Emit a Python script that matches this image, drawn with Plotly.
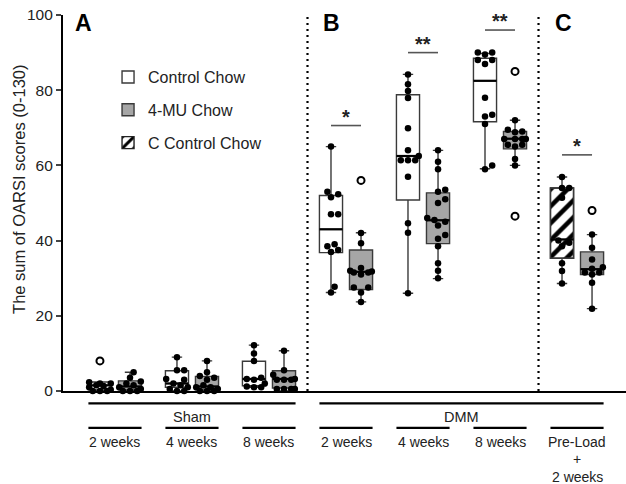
import plotly.graph_objects as go

# ---------------- data ----------------
groups = ["Sham 2 weeks", "Sham 4 weeks", "Sham 8 weeks",
          "DMM 2 weeks", "DMM 4 weeks", "DMM 8 weeks", "Pre-Load + 2 weeks"]
sub_labels = ["2 weeks", "4 weeks", "8 weeks", "2 weeks", "4 weeks", "8 weeks",
              "Pre-Load<br>+<br>2 weeks"]
top_labels = ["Sham", "DMM"]
top_spans = [(0, 2), (3, 6)]
y_title = "The sum of OARSI scores (0-130)"

# Control Chow (groups 0-5)
ctrl_groups = [0, 1, 2, 3, 4, 5]
ctrl_q1 = [0.3, 1.0, 1.4, 36.8, 50.8, 71.6]
ctrl_med = [1.5, 2.0, 3.2, 43.0, 62.5, 82.5]
ctrl_q3 = [2.4, 5.4, 7.9, 52.0, 78.8, 88.5]
ctrl_lo = [0.0, 0.0, 1.0, 26.2, 26.0, 59.1]
ctrl_hi = [2.4, 9.0, 12.2, 65.0, 84.2, 89.8]
ctrl_pts = [
    [0, 0, 0, 0.3, 1, 1.3, 1.5, 2, 2, 2.3],
    [0, 0, 0.5, 1, 1.5, 2, 3, 3.2, 5.5, 5.5, 9],
    [1, 1, 1.2, 2, 3, 3.2, 3.5, 8, 10, 12.2],
    [65, 53, 52.3, 51.5, 47, 47, 39, 38.5, 37.5, 37, 27.7, 26.2],
    [84.2, 81.6, 79.8, 77.9, 69.9, 64, 62.5, 61.4, 61.4, 61.4, 57, 44.6, 42.1, 26],
    [90, 90, 89.5, 88, 88, 87, 78, 73.5, 73, 71, 60, 59],
]
ctrl_out = [[8], [], [], [], [], []]

# 4-MU Chow (groups 0-6)
mu_groups = [0, 1, 2, 3, 4, 5, 6]
mu_q1 = [0.3, 0.3, 0.8, 27.0, 39.2, 64.4, 31.0]
mu_med = [1.2, 1.2, 3.2, 31.7, 45.4, 67.1, 32.4]
mu_q3 = [2.7, 3.9, 5.4, 37.5, 52.7, 69.0, 37.0]
mu_lo = [0.0, 0.0, 0.0, 23.7, 29.9, 60.0, 21.9]
mu_hi = [5.0, 8.0, 10.7, 42.1, 64.0, 72.0, 41.6]
mu_pts = [
    [0, 0, 0, 0.5, 1, 1.5, 2, 2.5, 3.5, 5],
    [0, 0, 0, 0.5, 1, 1, 1.5, 3, 3.5, 4, 5, 8],
    [0.5, 0.5, 0.5, 0.5, 3, 3, 3, 3.2, 4.3, 5.5, 10.7],
    [42, 39.3, 32.7, 32, 31.8, 31.5, 31.5, 31, 27.5, 27.5, 26.2, 23.7],
    [64, 61, 59, 53.5, 53, 51, 50, 46, 45.5, 45, 44, 41.5, 40.5, 38.5, 34, 32, 30],
    [72, 69.5, 69, 68.8, 67, 67, 67, 67, 65.5, 65.5, 65, 61.7, 60],
    [41.6, 38.1, 35, 32.9, 32.5, 31.5, 31.5, 31, 28.8, 21.9],
]
mu_out = [[], [], [], [56], [], [85, 46.5], [48]]

# C Control Chow (group 6)
cc_groups = [6]
cc_q1 = [35.3]
cc_med = [40.3]
cc_q3 = [54.0]
cc_lo = [28.6]
cc_hi = [56.9]
cc_pts = [[56.9, 54, 54, 51.4, 40, 39.4, 38.5, 34, 31.9, 28.6]]
cc_out = [[]]

# significance
sig_groups = [3, 4, 5, 6]
sig_y = [70.6, 90.0, 96.0, 62.8]
sig_text = ["*", "**", "**", "*"]

# ---------------- layout helpers ----------------
OFF = 0.195      # half distance between paired boxes (x units)
BW = 0.30        # box width (x units)
PX_X = 77.0      # px per x unit
PX_Y = 3.76      # px per y unit
FONT = "Arial, Liberation Sans, sans-serif"


def swarm(vals, center):
    """Deterministic beeswarm: spread coincident points sideways."""
    placed, xs, ys = [], [], []
    step, dmin = 3.6, 6.3
    order = [0, 1, -1, 2, -2, 3, -3]
    for v in sorted(vals):
        yp = v * PX_Y
        best = None
        for k in order:
            dx = k * step
            if all((dx - a) ** 2 + (yp - b) ** 2 >= dmin ** 2 for a, b in placed):
                best = dx
                break
        if best is None:
            best = max((k * step for k in order),
                       key=lambda dx: min((dx - a) ** 2 + (yp - b) ** 2 for a, b in placed))
        placed.append((best, yp))
        xs.append(center + best / PX_X)
        ys.append(v)
    return xs, ys


fig = go.Figure()

# hatched box body for C Control Chow
fig.add_trace(go.Bar(
    x=[g - OFF for g in cc_groups], base=cc_q1,
    y=[b - a for a, b in zip(cc_q1, cc_q3)], width=BW,
    marker=dict(color="white", line=dict(width=1.4, color="#222"),
                pattern=dict(shape="/", fgcolor="black", bgcolor="white", fgopacity=1,
                             size=12, solidity=0.38)),
    name="C Control Chow", legendgroup="cc", showlegend=True,
    hoverinfo="skip", legendrank=3))

series = [
    ("Control Chow", "c", ctrl_groups, -OFF, ctrl_q1, ctrl_med, ctrl_q3, ctrl_lo, ctrl_hi,
     ctrl_pts, ctrl_out, "white", True, 1),
    ("4-MU Chow", "m", mu_groups, OFF, mu_q1, mu_med, mu_q3, mu_lo, mu_hi,
     mu_pts, mu_out, "#a6a6a6", True, 2),
    ("C Control Chow", "cc", cc_groups, -OFF, cc_q1, cc_med, cc_q3, cc_lo, cc_hi,
     cc_pts, cc_out, "rgba(0,0,0,0)", False, 4),
]

for (name, lg, grp, off, q1, med, q3, lo, hi, pts, outs, fill, showleg, rank) in series:
    xpos = [g + off for g in grp]
    fig.add_trace(go.Box(
        x=xpos, q1=q1, median=med, q3=q3, lowerfence=lo, upperfence=hi,
        width=BW, whiskerwidth=0.45, boxpoints=False,
        fillcolor=fill, line=dict(color="#3a3a3a", width=1.4),
        name=name, legendgroup=lg, showlegend=showleg, legendrank=rank,
        hoverinfo="skip"))
    # thicker median lines
    mx, my = [], []
    for x0, m in zip(xpos, med):
        mx += [x0 - BW / 2, x0 + BW / 2, None]
        my += [m, m, None]
    fig.add_trace(go.Scatter(x=mx, y=my, mode="lines", legendgroup=lg,
                             line=dict(color="black", width=2.2),
                             showlegend=False, hoverinfo="skip"))
    # individual points
    px, py = [], []
    for x0, p in zip(xpos, pts):
        a, b = swarm(p, x0)
        px += a
        py += b
    fig.add_trace(go.Scatter(x=px, y=py, mode="markers", cliponaxis=False,
                             legendgroup=lg,
                             marker=dict(color="black", size=6.5),
                             showlegend=False, hoverinfo="skip"))
    ox, oy = [], []
    for x0, o in zip(xpos, outs):
        ox += [x0] * len(o)
        oy += o
    if ox:
        fig.add_trace(go.Scatter(x=ox, y=oy, mode="markers", cliponaxis=False,
                                 legendgroup=lg,
                                 marker=dict(symbol="circle-open", color="black",
                                             size=7, line=dict(width=2)),
                                 showlegend=False, hoverinfo="skip"))

shapes = []
annotations = []

# significance bars
for g, y, t in zip(sig_groups, sig_y, sig_text):
    shapes.append(dict(type="line", xref="x", yref="y", x0=g - OFF, x1=g + OFF,
                       y0=y, y1=y, line=dict(color="#555555", width=1.6)))
    annotations.append(dict(x=g, y=y, xref="x", yref="y", text="<b>%s</b>" % t,
                            showarrow=False, yanchor="bottom", yshift=-4,
                            font=dict(size=20, color="#222", family=FONT)))

# dotted separators
for xs in [2.5, 5.5]:
    shapes.append(dict(type="line", xref="x", yref="paper", x0=xs, x1=xs,
                       y0=0, y1=1, line=dict(color="black", width=2.2, dash="2px,4px")))

# group brackets below the axis
HALF = OFF + BW / 2
LINE_STEP = 0.0465   # paper units between stacked label lines
for i, lab in enumerate(sub_labels):
    shapes.append(dict(type="line", xref="x", yref="paper", x0=i - HALF, x1=i + HALF,
                       y0=-0.098, y1=-0.098, line=dict(color="black", width=2.2)))
    for j, part in enumerate(lab.split("<br>")):
        annotations.append(dict(x=i, y=-0.1356 - j * LINE_STEP, xref="x", yref="paper",
                                text=part, showarrow=False, yanchor="middle",
                                font=dict(size=14, color="#222", family=FONT)))
for lab, (a, b) in zip(top_labels, top_spans):
    shapes.append(dict(type="line", xref="x", yref="paper", x0=a - HALF, x1=b + HALF,
                       y0=-0.033, y1=-0.033, line=dict(color="black", width=2.2)))
    annotations.append(dict(x=(a + b) / 2, y=-0.069, xref="x", yref="paper", text=lab,
                            showarrow=False, yanchor="middle",
                            font=dict(size=14.5, color="#222", family=FONT)))

# panel letters
for lab, xp in [("A", -0.41), ("B", 2.81), ("C", 5.82)]:
    annotations.append(dict(x=xp, y=0.978, xref="x", yref="paper", text="<b>%s</b>" % lab,
                            showarrow=False, yanchor="middle",
                            font=dict(size=23, color="black", family=FONT)))

# y-axis title
annotations.append(dict(x=-0.078, y=0.535, xref="paper", yref="paper", text=y_title,
                        textangle=-90, showarrow=False, xanchor="center", yanchor="middle",
                        font=dict(size=16.5, color="#222", family=FONT)))

fig.update_layout(
    width=626, height=484,
    margin=dict(l=63, r=0, t=15, b=93),
    paper_bgcolor="white", plot_bgcolor="white",
    barmode="overlay", boxmode="overlay",
    font=dict(family=FONT, color="#222"),
    shapes=shapes, annotations=annotations,
    legend=dict(x=0.08, y=0.88, xanchor="left", yanchor="top",
                bgcolor="rgba(0,0,0,0)", font=dict(size=16, family=FONT, color="#222"),
                tracegroupgap=9, traceorder="grouped"),
    xaxis=dict(range=[-0.675, 6.636], showline=True, linecolor="black", linewidth=2.2,
               showticklabels=False, ticks="", showgrid=False, zeroline=False),
    yaxis=dict(range=[0, 100], tickvals=[0, 20, 40, 60, 80, 100], showline=True,
               linecolor="black", linewidth=2.2, ticks="outside", ticklen=5,
               tickwidth=2, showgrid=False, zeroline=False,
               tickfont=dict(size=15.5, color="#222", family=FONT)),
)

fig.write_html("out.html", config={"displayModeBar": False},
               post_script="document.body.style.margin='0';"
                           "document.body.style.padding='0';"
                           "document.body.style.overflow='hidden';")
